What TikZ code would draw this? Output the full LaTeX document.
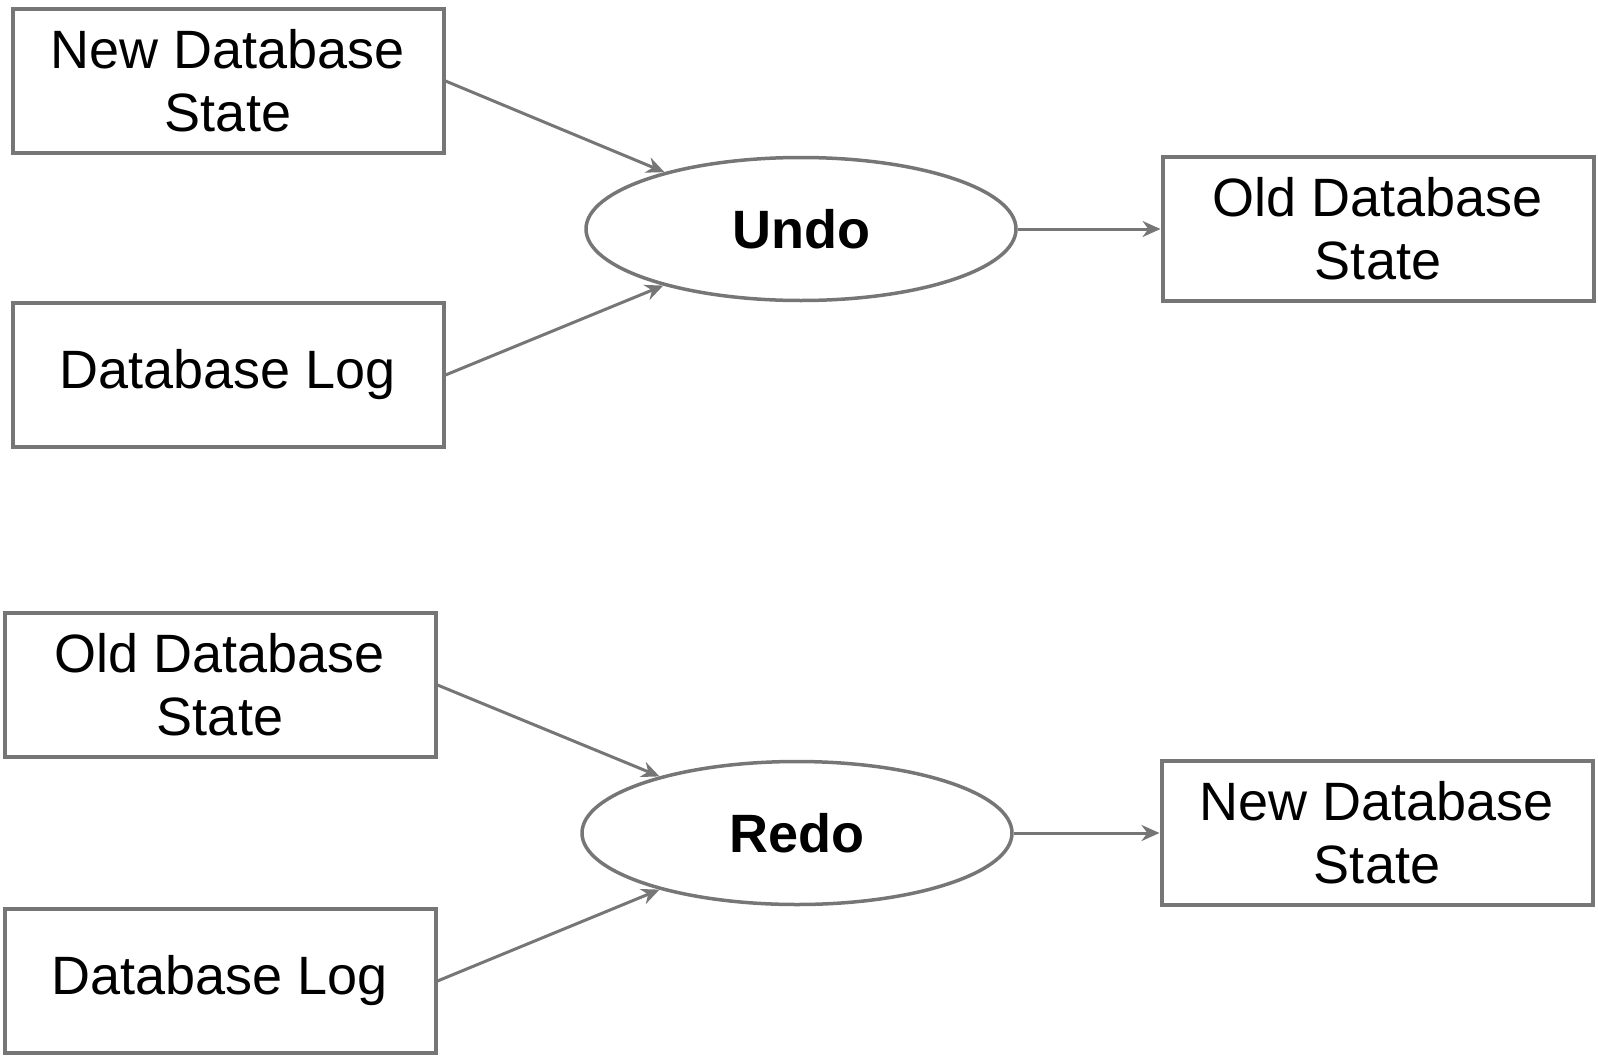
\documentclass[tikz,border=0pt]{standalone}
\usepackage{fontspec}
\setmainfont{Liberation Sans}
\usetikzlibrary{arrows.meta,shapes.geometric}
\definecolor{edgegray}{HTML}{767676}
\tikzset{
  box/.style={draw=edgegray, line width=4pt, minimum width=431pt, minimum height=144pt,
    inner sep=0pt, align=center, font=\fontsize{54}{63}\selectfont, text=black},
  proc/.style={ellipse, draw=edgegray, line width=3.5pt, minimum width=430pt, minimum height=143pt,
    inner sep=0pt, font=\fontsize{54}{63}\selectfont\bfseries, text=black},
  conn/.style={draw=edgegray, line width=3pt, -{Stealth[length=18pt,width=16pt]}}
}
\begin{document}
\begin{tikzpicture}[x=1pt,y=-1pt]
\useasboundingbox (0,0) rectangle (1598,1055);
% top group
\node[box] (a) at (228,81) {New Database\\State};
\node[box] (b) at (228,375) {Database Log};
\node[proc] (undo) at (801,229) {Undo};
\node[box] (c) at (1378,229) {Old Database\\State};
\draw[conn] (a.east) -- (undo);
\draw[conn] (b.east) -- (undo);
\draw[conn] (undo.east) -- (c.west);
% bottom group
\node[box] (d) at (220,685) {Old Database\\State};
\node[box] (e) at (220,981) {Database Log};
\node[proc] (redo) at (797,833) {Redo};
\node[box] (f) at (1377,833) {New Database\\State};
\draw[conn] (d.east) -- (redo);
\draw[conn] (e.east) -- (redo);
\draw[conn] (redo.east) -- (f.west);
\end{tikzpicture}
\end{document}
